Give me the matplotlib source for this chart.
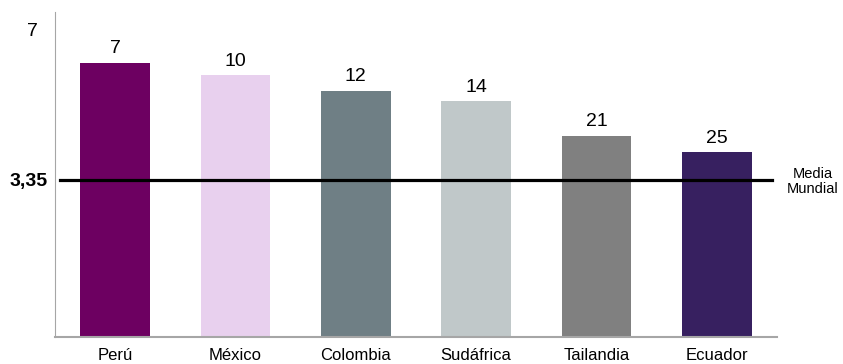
import matplotlib
matplotlib.use('Agg')
import matplotlib.pyplot as plt
import matplotlib.transforms as mtransforms

plt.rcParams['font.family'] = ['Liberation Sans', 'DejaVu Sans']

# datos
paises = ['Perú', 'México', 'Colombia', 'Sudáfrica', 'Tailandia', 'Ecuador']
valores = [5.90, 5.64, 5.30, 5.08, 4.33, 3.98]
ranking = ['7', '10', '12', '14', '21', '25']
colores = ['#6d0061', '#e8d0ee', '#6f7f85', '#c0c8c9', '#808080', '#372060']
media_mundial = 3.35
y_max = 7

fig = plt.figure(figsize=(8.43, 3.64), dpi=100)
ax = fig.add_axes([0.0652, 0.0742, 0.8565, 0.893])

x = range(len(paises))
bars = ax.bar(x, valores, width=0.58, color=colores, zorder=2)

# etiquetas de ranking sobre cada barra
for b, r in zip(bars, ranking):
    ax.annotate(r, (b.get_x() + b.get_width() / 2, b.get_height()),
                xytext=(0, 4), textcoords='offset points',
                ha='center', va='bottom', fontsize=14)

# línea de media mundial
ax.axhline(media_mundial + 0.04, xmin=0.007, xmax=0.993, color='black',
           linewidth=2.3, zorder=3)
trans = mtransforms.blended_transform_factory(ax.transAxes, ax.transData)
ax.text(1.049, media_mundial, 'Media\nMundial', transform=trans,
        ha='center', va='center', fontsize=10.5, linespacing=1.15)

# ejes
ax.set_xlim(-0.5, len(paises) - 0.5)
ax.set_ylim(0, y_max)
ax.set_xticks(list(x))
ax.set_xticklabels(paises, fontsize=12)
ax.set_yticks([media_mundial + 0.04])
ax.set_yticklabels(['3,35'], fontsize=14, fontweight='bold')
ax.tick_params(axis='both', length=0, pad=8)
ax.tick_params(axis='y', pad=5)
ax.annotate(str(y_max), (0, y_max), xycoords=('axes fraction', 'data'),
            xytext=(-12, -14), textcoords='offset points',
            ha='right', va='center', fontsize=14)

for s in ['top', 'right']:
    ax.spines[s].set_visible(False)
ax.spines['left'].set_color('#a6a6a6')
ax.spines['bottom'].set_color('#a6a6a6')
ax.spines['bottom'].set_linewidth(1.5)

fig.savefig('out.png', dpi=100)
